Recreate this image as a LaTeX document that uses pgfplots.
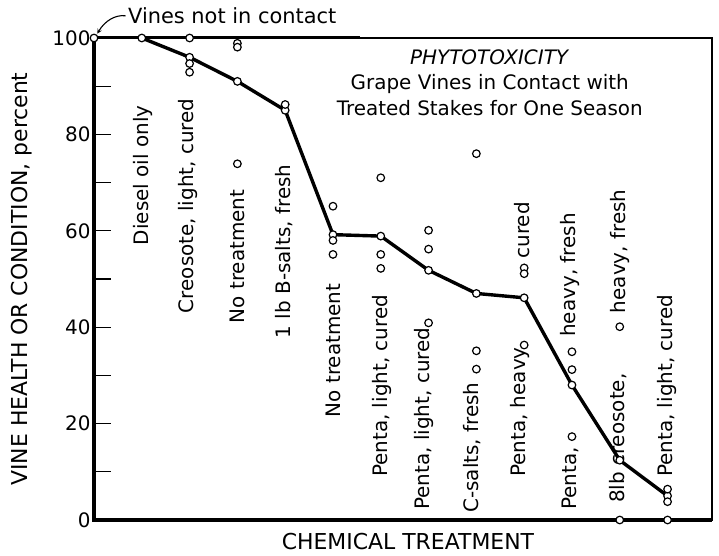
\documentclass[border=0pt]{standalone}
\usepackage{fontspec}
\setmainfont{DejaVu Sans}
\usepackage{pgfplots}
\pgfplotsset{compat=1.18}
\newcommand\lbl{\fontsize{20}{24}\selectfont}
\begin{document}
\begin{tikzpicture}
\begin{axis}[
  scale only axis, width=618bp, height=482bp,
  xmin=0, xmax=12.93, ymin=0, ymax=100,
  xtick=\empty,
  ytick={0,20,...,100}, minor ytick={10,30,...,90},
  ytick pos=left,
  tick align=inside,
  major tick length=17bp, minor tick length=17bp,
  every tick/.style={black, line width=1.3bp},
  axis line style={line width=2.2bp},
  clip=false,
  /pgf/number format/assume math mode=true,
  yticklabel style={font=\fontsize{20}{24}\selectfont},
  xlabel={CHEMICAL TREATMENT},
  ylabel={VINE HEALTH OR CONDITION, percent},
  xlabel style={font=\fontsize{22}{26}\selectfont, at={(axis description cs:0.508,0)}, anchor=north, yshift=-10bp},
  ylabel style={font=\fontsize{22}{26}\selectfont, at={(axis description cs:-0.117,0.5)}, anchor=center},
]
\draw[line width=3.5bp] (rel axis cs:0,1) -- (rel axis cs:0,0) -- (rel axis cs:1,0);
\draw[line width=3bp] (rel axis cs:0,1) -- (rel axis cs:0.43,1);

% mean line
\addplot[black, line width=3.4bp, mark=*, mark size=3.8bp,
  mark options={fill=white, draw=black, line width=1.2bp}]
  coordinates {(1,100) (2,96.0) (3,91.0) (4,85.0) (5,59.2) (6,58.9) (7,51.8)
               (8,47.0) (9,46.1) (10,28.0) (11,12.4) (12,5.0)};

% individual observations
\addplot[only marks, mark=*, mark size=3.8bp,
  mark options={fill=white, draw=black, line width=1.2bp}]
  coordinates {(0,100) (2,100) (2,94.7) (2,92.9) (3,98.9) (3,98.1) (3,73.9)
               (4,86.2) (5,65.1) (5,58.0) (5,55.1) (6,71.0) (6,55.1) (6,52.2)
               (7,60.1) (7,56.2) (7,40.9) (8,76.0) (8,35.1) (8,31.3)
               (9,52.3) (9,51.1) (9,36.3) (10,34.9) (10,31.2) (10,17.3)
               (11,40.1) (11,0) (12,6.4) (12,3.8) (12,0)};

% category labels
\begin{scope}[every node/.style={rotate=90, anchor=west, inner sep=0pt, font=\lbl}]
\node at (axis cs:1.03,57.0) {Diesel oil only};
\node at (axis cs:1.97,42.9) {Creosote, light, cured};
\node at (axis cs:2.99,40.8) {No treatment};
\node at (axis cs:3.97,37.7) {1 lb B-salts, fresh};
\node at (axis cs:5.00,21.3) {No treatment};
\node at (axis cs:6.03,8.9) {Penta, light, cured};
\node at (axis cs:6.90,2.1) {Penta, light, cured};
\node at (axis cs:7.90,1.5) {C-salts, fresh};
\node at (axis cs:8.91,8.9) {Penta, heavy,};
\node at (axis cs:8.95,54.2) {cured};
\node at (axis cs:9.96,2.1) {Penta,};
\node at (axis cs:9.96,38.0) {heavy, fresh};
\node at (axis cs:10.96,3.5) {8lb creosote,};
\node at (axis cs:11.00,42.9) {heavy, fresh};
\node at (axis cs:11.99,8.9) {Penta, light, cured};
\end{scope}

% title block
\node[align=center, anchor=north, inner sep=0pt, font=\fontsize{20}{26}\selectfont]
  at (axis cs:8.28,97.7)
  {\textit{PHYTOTOXICITY}\\Grape Vines in Contact with\\Treated Stakes for One Season};

% annotation
\node[anchor=base west, inner sep=0pt, font=\fontsize{21}{25}\selectfont] at (axis cs:0.71,103.0) {Vines not in contact};
\draw[-stealth, line width=1.1bp] (axis cs:0.66,104.6) .. controls (axis cs:0.45,104.9) and (axis cs:0.22,103.5) .. (axis cs:0.07,100.9);
\end{axis}
\pgfresetboundingbox
\path[use as bounding box] (-94bp,-36bp) rectangle (625bp,520bp);
\end{tikzpicture}
\end{document}
